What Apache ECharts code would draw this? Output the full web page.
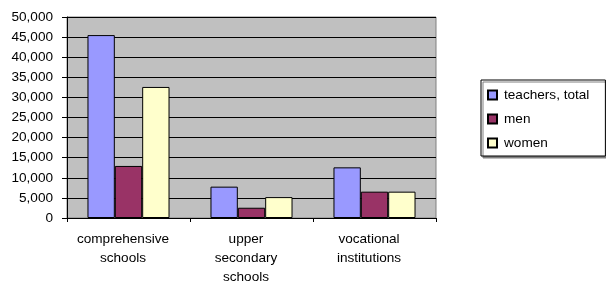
<!DOCTYPE html>
<html>
<head>
<meta charset="utf-8">
<script src="https://cdn.jsdelivr.net/npm/echarts@6/dist/echarts.min.js"></script>
<style>html,body{margin:0;padding:0;background:#fff}#c{width:606px;height:281px}</style>
</head>
<body>
<div id="c"></div>
<script>
var categories = ["comprehensive\nschools", "upper\nsecondary\nschools", "vocational\ninstitutions"];
var seriesNames = ["teachers, total", "men", "women"];
var teachersTotal = [45500, 7800, 12600];
var men = [12950, 2550, 6550];
var women = [32600, 5200, 6550];
var yTicks = [0, 5000, 10000, 15000, 20000, 25000, 30000, 35000, 40000, 45000, 50000];

var colors = ["#9999FF", "#993366", "#FFFFCC"];
var font = "'Liberation Sans', Arial, sans-serif";
var fs = 13.6;
var chart = echarts.init(document.getElementById('c'), null, {renderer: 'canvas'});
function fmt(v){ return String(v).replace(/\B(?=(\d{3})+(?!\d))/g, ','); }
var data = [teachersTotal, men, women];
chart.setOption({
  animation: false,
  textStyle: {fontFamily: font},
  grid: {left: 67, right: 170, top: 17, bottom: 63, outerBoundsMode: 'none', containLabel: false,
         show: true, backgroundColor: '#C0C0C0', borderColor: '#808080', borderWidth: 1},
  legend: {
    orient: 'vertical', left: 481, top: 80,
    padding: [8, 16, 6, 6], itemGap: 10,
    itemWidth: 9, itemHeight: 9, icon: 'rect',
    backgroundColor: '#fff', borderColor: '#000', borderWidth: 1,
    shadowColor: '#808080', shadowOffsetX: 2, shadowOffsetY: 2, shadowBlur: 0,
    textStyle: {fontFamily: font, fontSize: fs, color: '#000', lineHeight: 14, padding: [0,0,0,2]},
    data: seriesNames
  },
  xAxis: {
    type: 'category', data: categories,
    axisLine: {lineStyle: {color: '#000', width: 1}},
    axisTick: {show: true, length: 4, lineStyle: {color: '#000'}},
    axisLabel: {color: '#000', fontFamily: font, fontSize: fs, lineHeight: 19, margin: 12, interval: 0, padding: [0, 11, 0, 0]},
    splitLine: {show: false}
  },
  yAxis: {
    type: 'value', min: yTicks[0], max: yTicks[yTicks.length-1], interval: yTicks[1]-yTicks[0],
    axisLine: {show: true, lineStyle: {color: '#000', width: 1}},
    axisTick: {show: true, length: 5, lineStyle: {color: '#000'}},
    axisLabel: {color: '#000', fontFamily: font, fontSize: fs, margin: 14, formatter: fmt},
    splitLine: {show: true, lineStyle: {color: '#000', width: 1}}
  },
  series: seriesNames.map(function(n, i){
    return {
      name: n, type: 'bar', data: data[i],
      barGap: '0%', barCategoryGap: '33.3%',
      itemStyle: {color: colors[i], borderColor: '#000', borderWidth: 1}
    };
  })
});
</script>
</body>
</html>
